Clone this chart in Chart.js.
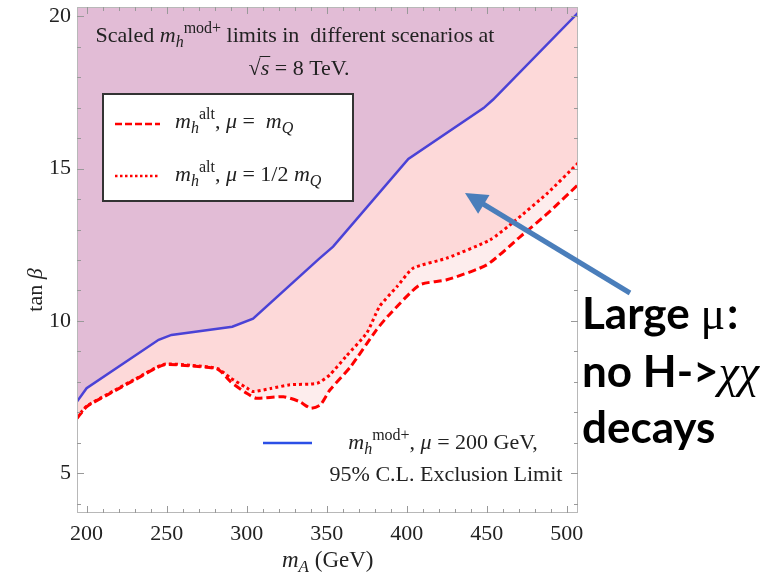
<!DOCTYPE html>
<html>
<head>
<meta charset="utf-8">
<script src="https://cdn.jsdelivr.net/npm/chart.js@4/dist/chart.umd.min.js"></script>
<style>
  html, body { margin: 0; padding: 0; background: #fff; }
  canvas { display: block; }
</style>
</head>
<body>
<canvas id="chart" width="778" height="575"></canvas>
<script>
// m_h^mod+, mu = 200 GeV, 95% CL exclusion limit
var blueX = [194, 200, 245, 253, 291, 304, 345, 354, 401, 448, 454, 507];
var blueY = [7.35, 7.79, 9.38, 9.54, 9.81, 10.07, 12.03, 12.44, 15.32, 16.99, 17.27, 20.12];

// m_h^alt, mu = 1/2 m_Q (dotted)
var dotX = [194, 200, 213, 230, 248, 265, 282, 290, 300, 304, 315, 327, 344, 352, 362, 375, 383, 394, 404, 425, 452, 467, 488, 507];
var dotY = [6.82, 7.2, 7.59, 8.08, 8.57, 8.54, 8.43, 8.12, 7.8, 7.68, 7.78, 7.9, 7.95, 8.23, 8.83, 9.6, 10.47, 11.13, 11.73, 12.06, 12.66, 13.26, 14.2, 15.18];

// m_h^alt, mu = m_Q (dashed)
var dashX = [194, 200, 213, 230, 248, 265, 282, 290, 300, 306, 323, 333, 340, 346, 352, 365, 381, 388, 408, 425, 450, 471, 488, 507];
var dashY = [6.8, 7.18, 7.57, 8.06, 8.55, 8.52, 8.41, 8.0, 7.62, 7.46, 7.51, 7.35, 7.13, 7.24, 7.73, 8.5, 9.7, 10.14, 11.18, 11.35, 11.84, 12.77, 13.53, 14.47];

var xTicks = [200, 250, 300, 350, 400, 450, 500];
var yTicks = [5, 10, 15, 20];

function pts(xs, ys) {
  return xs.map(function(x, i) { return {x: x, y: ys[i]}; });
}

var serif = '"Liberation Serif", "Times New Roman", serif';

// draws text made of roman / italic / sub / sup pieces, returns x of each piece
function richText(ctx, x, y, parts, size, align) {
  var small = Math.round(size * 0.72);
  var fonts = {
    r: size + 'px ' + serif,
    i: 'italic ' + size + 'px ' + serif,
    sub: 'italic ' + small + 'px ' + serif,
    sup: small + 'px ' + serif
  };
  var shift = {r: 0, i: 0, sub: size * 0.22, sup: -size * 0.42};
  var w = 0;
  parts.forEach(function(p) { ctx.font = fonts[p[1]]; w += ctx.measureText(p[0]).width; });
  var cx = align === 'center' ? x - w / 2 : x;
  var xs = [];
  parts.forEach(function(p) {
    ctx.font = fonts[p[1]];
    xs.push(cx);
    ctx.fillText(p[0], cx, y + shift[p[1]]);
    cx += ctx.measureText(p[0]).width;
  });
  xs.push(cx);
  return xs;
}

var overlay = {
  id: 'overlay',
  afterDraw: function(chart) {
    var ctx = chart.ctx;
    var a = chart.chartArea;
    var sx = chart.scales.x, sy = chart.scales.y;
    ctx.save();

    // frame with inward ticks
    ctx.strokeStyle = '#b8b8b8';
    ctx.lineWidth = 1;
    ctx.strokeRect(a.left + 0.5, a.top + 0.5, a.right - a.left - 1, a.bottom - a.top - 1);
    ctx.strokeStyle = '#999';
    ctx.beginPath();
    for (var v = 200; v <= 500; v += 10) {
      var px = Math.round(sx.getPixelForValue(v)) + 0.5;
      var len = v % 50 === 0 ? 7 : 4;
      ctx.moveTo(px, a.bottom); ctx.lineTo(px, a.bottom - len);
      ctx.moveTo(px, a.top); ctx.lineTo(px, a.top + len);
    }
    for (var t = 4; t <= 20; t += 1) {
      var py = Math.round(sy.getPixelForValue(t)) + 0.5;
      var l2 = t % 5 === 0 ? 7 : 4;
      ctx.moveTo(a.left, py); ctx.lineTo(a.left + l2, py);
      ctx.moveTo(a.right, py); ctx.lineTo(a.right - l2, py);
    }
    ctx.stroke();

    ctx.fillStyle = '#222';
    ctx.textBaseline = 'alphabetic';

    // title inside the plot
    richText(ctx, 295, 42, [['Scaled ', 'r'], ['m', 'i'], ['h', 'sub'], ['mod+', 'sup'],
      [' limits in  different scenarios at', 'r']], 22, 'center');
    var xs = richText(ctx, 299, 75, [['\u221A', 'r'], ['s', 'i'], [' = 8 TeV.', 'r']], 22, 'center');
    ctx.strokeStyle = '#222';
    ctx.lineWidth = 1;
    ctx.beginPath();
    ctx.moveTo(xs[1] - 1, 56.5); ctx.lineTo(xs[2] + 1, 56.5);
    ctx.stroke();

    // legend box
    ctx.fillStyle = '#fff';
    ctx.fillRect(103, 94, 250, 107);
    ctx.strokeStyle = '#333';
    ctx.lineWidth = 2;
    ctx.strokeRect(103, 94, 250, 107);
    ctx.strokeStyle = '#ff0000';
    ctx.lineWidth = 2.5;
    ctx.setLineDash([7, 3]);
    ctx.beginPath(); ctx.moveTo(115, 124); ctx.lineTo(160, 124); ctx.stroke();
    ctx.setLineDash([2.5, 2.5]);
    ctx.beginPath(); ctx.moveTo(115, 176); ctx.lineTo(160, 176); ctx.stroke();
    ctx.setLineDash([]);
    ctx.fillStyle = '#222';
    richText(ctx, 175, 128, [['m', 'i'], ['h', 'sub'], ['alt', 'sup'], [', ', 'r'], ['\u03BC', 'i'],
      [' =  ', 'r'], ['m', 'i'], ['Q', 'sub']], 22, 'left');
    richText(ctx, 175, 181, [['m', 'i'], ['h', 'sub'], ['alt', 'sup'], [', ', 'r'], ['\u03BC', 'i'],
      [' = 1/2 ', 'r'], ['m', 'i'], ['Q', 'sub']], 22, 'left');

    // bottom legend
    ctx.strokeStyle = '#2b4fe6';
    ctx.lineWidth = 2.5;
    ctx.beginPath(); ctx.moveTo(263, 443); ctx.lineTo(312, 443); ctx.stroke();
    richText(ctx, 443, 449, [['m', 'i'], ['h', 'sub'], ['mod+', 'sup'], [', ', 'r'], ['\u03BC', 'i'],
      [' = 200 GeV,', 'r']], 22, 'center');
    richText(ctx, 446, 481, [['95% C.L. Exclusion Limit', 'r']], 22, 'center');

    // axis titles
    richText(ctx, 282, 567, [['m', 'i'], ['A', 'sub'], [' (GeV)', 'r']], 23, 'left');
    ctx.save();
    ctx.translate(42, 290);
    ctx.rotate(-Math.PI / 2);
    richText(ctx, 0, 0, [['tan ', 'r'], ['\u03B2', 'i']], 22, 'center');
    ctx.restore();

    // arrow
    var x0 = 630, y0 = 293, x1 = 465, y1 = 193;
    var ang = Math.atan2(y1 - y0, x1 - x0);
    ctx.strokeStyle = '#4a7ebb';
    ctx.fillStyle = '#4a7ebb';
    ctx.lineWidth = 5;
    ctx.beginPath();
    ctx.moveTo(x0, y0);
    ctx.lineTo(x1 - Math.cos(ang) * 14, y1 - Math.sin(ang) * 14);
    ctx.stroke();
    ctx.beginPath();
    ctx.moveTo(x1, y1);
    ctx.lineTo(x1 - Math.cos(ang) * 22 + Math.sin(ang) * 11, y1 - Math.sin(ang) * 22 - Math.cos(ang) * 11);
    ctx.lineTo(x1 - Math.cos(ang) * 22 - Math.sin(ang) * 11, y1 - Math.sin(ang) * 22 + Math.cos(ang) * 11);
    ctx.closePath();
    ctx.fill();

    // annotation
    ctx.fillStyle = '#000';
    var bold = 'bold 44px Lato, "Open Sans", sans-serif';
    var left = 582;
    var cx;
    ctx.font = bold;
    ctx.fillText('Large ', left, 329);
    cx = left + ctx.measureText('Large ').width;
    ctx.font = '46px ' + serif;
    ctx.fillText('\u03BC', cx, 329);
    cx += ctx.measureText('\u03BC').width + 2;
    ctx.font = bold;
    ctx.fillText(':', cx, 329);
    ctx.fillText('no H->', left, 387);
    cx = left + ctx.measureText('no H->').width;
    ctx.font = 'italic 46px ' + serif;
    ctx.fillText('\u03C7\u03C7', cx, 387);
    ctx.font = bold;
    ctx.fillText('decays', left, 443);

    ctx.restore();
  }
};

new Chart(document.getElementById('chart'), {
  type: 'line',
  data: {
    datasets: [{
      label: 'mh mod+, mu = 200 GeV',
      data: pts(blueX, blueY),
      borderColor: '#4a42d6',
      borderWidth: 2.5,
      backgroundColor: '#e2bcd6',
      fill: 'end',
      pointRadius: 0,
      tension: 0
    }, {
      label: 'mh alt, mu = 1/2 mQ',
      data: pts(dotX, dotY),
      borderColor: '#ff0000',
      borderWidth: 3,
      borderDash: [3, 3],
      backgroundColor: '#fdd9d9',
      fill: '-1',
      pointRadius: 0,
      tension: 0.2
    }, {
      label: 'mh alt, mu = mQ',
      data: pts(dashX, dashY),
      borderColor: '#ff0000',
      borderWidth: 3,
      borderDash: [8, 4],
      backgroundColor: '#fdeded',
      fill: '-1',
      pointRadius: 0,
      tension: 0.2
    }]
  },
  options: {
    responsive: false,
    animation: false,
    layout: { padding: { left: 0, top: 7, right: 200, bottom: 0 } },
    plugins: {
      legend: { display: false },
      tooltip: { enabled: false },
      filler: { drawTime: 'beforeDatasetsDraw' }
    },
    scales: {
      x: {
        type: 'linear',
        min: 194,
        max: 507,
        afterBuildTicks: function(s) { s.ticks = xTicks.map(function(v) { return {value: v}; }); },
        afterFit: function(s) { s.height = 62; s.paddingLeft = 0; s.paddingRight = 0; },
        grid: { display: false, drawTicks: false },
        border: { display: false },
        ticks: { padding: 8, color: '#222', font: { family: 'Liberation Serif', size: 22 } }
      },
      y: {
        type: 'linear',
        min: 3.69,
        max: 20.31,
        afterBuildTicks: function(s) { s.ticks = yTicks.map(function(v) { return {value: v}; }); },
        afterFit: function(s) { s.width = 77; s.paddingTop = 0; s.paddingBottom = 0; },
        grid: { display: false, drawTicks: false },
        border: { display: false },
        ticks: { padding: 6, color: '#222', font: { family: 'Liberation Serif', size: 22 } }
      }
    }
  },
  plugins: [overlay]
});
</script>
</body>
</html>
